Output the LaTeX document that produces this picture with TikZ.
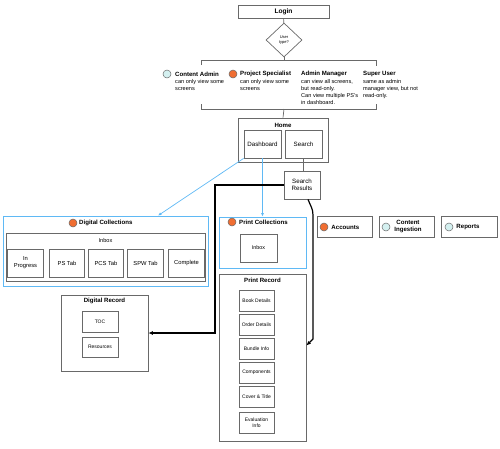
\documentclass[tikz,border=0pt]{standalone}
\usepackage{fontspec}
\setmainfont{Liberation Sans}
\usetikzlibrary{shapes.geometric,arrows.meta,positioning}

\definecolor{boxgray}{RGB}{105,105,105}
\definecolor{skyline}{RGB}{95,185,245}
\definecolor{dotorange}{RGB}{240,110,50}
\definecolor{dotcyan}{RGB}{212,240,240}

\tikzset{
    box/.style = {draw=boxgray, line width=0.7pt, inner sep=0pt, align=center, font=\fontsize{5.5}{6.5}\selectfont},
    smallbox/.style = {box, font=\fontsize{5}{6}\selectfont, minimum width=35pt, minimum height=21pt},
    tabbox/.style = {box, font=\fontsize{5.8}{7}\selectfont, minimum width=35.5pt, minimum height=28pt},
    bluebox/.style = {draw=skyline, line width=0.8pt, inner sep=0pt},
    heading/.style = {font=\bfseries\fontsize{6.1}{7}\selectfont, inner sep=0pt},
    roledesc/.style = {font=\fontsize{5.6}{6.9}\selectfont, inner sep=0pt, align=left, anchor=north west},
    dot/.style = {circle, draw=boxgray, fill=#1, line width=0.5pt, minimum size=8pt, inner sep=0pt},
    link/.style = {draw=boxgray, line width=0.7pt},
    jump/.style = {draw=black, line width=1.2pt, -{Latex[length=4.5pt,width=4pt]}},
    bluelink/.style = {draw=skyline, line width=0.7pt, -{Latex[length=3.5pt,width=3pt]}}
}

\begin{document}
\begin{tikzpicture}[x = 1pt, y = -1pt]
    \useasboundingbox (0,0) rectangle (500,448);

    % login and user type
    \node[box, font=\bfseries\fontsize{6.6}{7.5}\selectfont, minimum width=91pt, minimum height=13pt] (login) at (283.5,11.5) {Login};
    \node[diamond, draw=boxgray, line width=0.7pt, inner sep=0pt, minimum width=36pt, minimum height=34pt, align=center, font=\fontsize{4}{4.8}\selectfont] (usertype) at (284,40) {User\\type?};
    \draw[link] (login) -- (usertype);

    % roles bracket
    \coordinate (brtop) at (284,60);
    \coordinate (brbot) at (284,109);
    \draw[link] (usertype.south) -- (brtop);
    \draw[link] (201,65) -- (201,60) -- (376,60) -- (376,66);
    \draw[link] (201,104) -- (201,109) -- (376,109) -- (376,104);

    \node[dot=dotcyan] (cadot) at (167,74) {};
    \node[heading, anchor=west] (catitle) at (175,74) {Content Admin};
    \node[roledesc] (cadesc) at (175,79.5) {can only view some\\screens};
    \node[dot=dotorange] (psdot) at (233,74) {};
    \node[heading, anchor=west] (pstitle) at (240,74) {Project Specialist};
    \node[roledesc] (psdesc) at (240,79.5) {can only view some\\screens};
    \node[heading, anchor=west] (amtitle) at (301,74) {Admin Manager};
    \node[roledesc] (amdesc) at (301,79.5) {can view all screens,\\but read-only.\\Can view multiple PS's\\in dashboard.};
    \node[heading, anchor=west] (sutitle) at (363,74) {Super User};
    \node[roledesc] (sudesc) at (363,79.5) {same as admin\\manager view, but not\\read-only.};

    % home
    \node[box, minimum width=90pt, minimum height=44pt] (home) at (283,140) {};
    \node[heading] (hometitle) at (283,125) {Home};
    \node[box, font=\fontsize{6.2}{7.4}\selectfont, minimum width=37pt, minimum height=28pt] (dash) at (262.5,144) {Dashboard};
    \node[box, font=\fontsize{6.2}{7.4}\selectfont, minimum width=37pt, minimum height=28pt] (search) at (303.5,144) {Search};
    \node[box, font=\fontsize{6.2}{7.4}\selectfont, minimum width=36pt, minimum height=28pt] (results) at (302,185) {Search\\Results};
    \draw[link] (brbot) -- (home.north);
    \draw[link] (search.south) -- (search.south |- results.north);

    % digital collections
    \node[bluebox, minimum width=205pt, minimum height=70pt] (digcoll) at (105.5,251) {};
    \node[dot=dotorange] (dcdot) at (73,223) {};
    \node[heading, anchor=west] (dctitle) at (79,223) {Digital Collections};
    \node[box, minimum width=199pt, minimum height=48pt] (diginbox) at (105.5,257) {};
    \node[inner sep=0pt, font=\fontsize{5.6}{6.6}\selectfont] (diginboxtitle) at (105.5,240) {Inbox};
    \node[tabbox] (inprog) at (25.5,263) {In\\Progress};
    \node[tabbox] (pstab) at (67,263) {PS Tab};
    \node[tabbox] (pcstab) at (106,263) {PCS Tab};
    \node[tabbox] (spwtab) at (145.5,263) {SPW Tab};
    \node[tabbox] (complete) at (186.5,263) {Complete};

    % print collections
    \node[bluebox, minimum width=87pt, minimum height=51pt] (prcoll) at (262.5,242.5) {};
    \node[dot=dotorange] (pcdot) at (232,222) {};
    \node[heading, anchor=west] (pctitle) at (239,222) {Print Collections};
    \node[box, font=\fontsize{5.4}{6.4}\selectfont, minimum width=37pt, minimum height=28pt] (prinbox) at (258.5,248) {Inbox};

    % other sections
    \node[box, minimum width=55pt, minimum height=21pt] (accounts) at (344.5,226.5) {};
    \node[dot=dotorange] (accdot) at (324,227) {};
    \node[heading, right=3pt of accdot] (acctitle) {Accounts};
    \node[box, minimum width=55pt, minimum height=21pt] (ingest) at (406.5,226.5) {};
    \node[dot=dotcyan] (ingdot) at (386,227) {};
    \node[heading, align=center] (ingtitle) at (408,226.5) {Content\\Ingestion};
    \node[box, minimum width=56pt, minimum height=21pt] (reports) at (469,226.5) {};
    \node[dot=dotcyan] (repdot) at (449,227) {};
    \node[heading, right=3pt of repdot] (reptitle) {Reports};

    % print record
    \node[box, minimum width=87pt, minimum height=167pt] (prrec) at (262.5,357.5) {};
    \node[heading] (prtitle) at (262.5,280) {Print Record};
    \node[smallbox] (book) at (256.5,301) {Book Details};
    \node[smallbox] (order) at (256.5,324.5) {Order Details};
    \node[smallbox] (bundle) at (256.5,348.5) {Bundle Info};
    \node[smallbox] (comp) at (256.5,372.5) {Components};
    \node[smallbox] (cover) at (256.5,397) {Cover \& Title};
    \node[smallbox] (evalinfo) at (256.5,422.5) {Evaluation\\Info};

    % digital record
    \node[box, minimum width=87pt, minimum height=76pt] (digrec) at (104.5,333) {};
    \node[heading] (drtitle) at (104.5,301) {Digital Record};
    \node[smallbox, minimum width=36pt] (toc) at (100,321.5) {TOC};
    \node[smallbox, minimum width=36pt, minimum height=20pt] (resources) at (100,347) {Resources};

    % navigation
    \draw[bluelink] (dash.south west) -- ([xshift=52.5pt]digcoll.north);
    \draw[bluelink] (dash.south) -- (prcoll.north);
    \coordinate (turnA) at (215,333);
    \draw[jump] (results.west) -| (turnA) -- (digrec.east);
    \coordinate (turnB) at (313,215);
    \coordinate (turnC) at (313,339);
    \draw[jump] ([xshift=6pt]results.south) to[out=-70, in=90] (turnB) -- (turnC) -- ([yshift=12pt]prrec.east);
\end{tikzpicture}
\end{document}
